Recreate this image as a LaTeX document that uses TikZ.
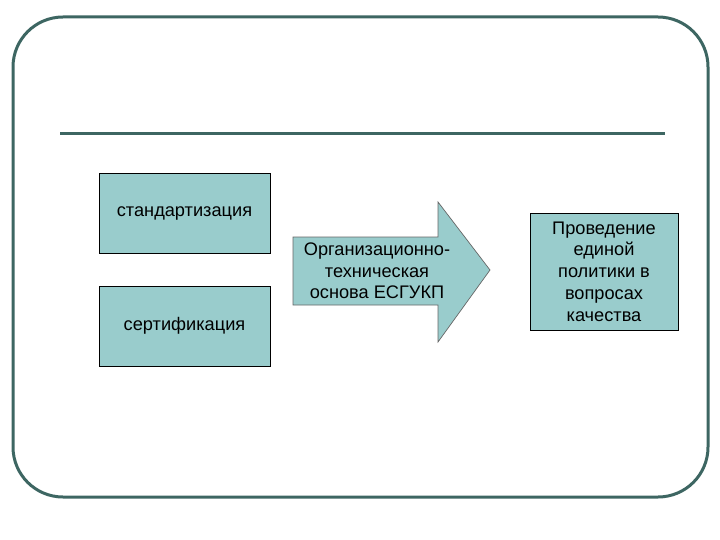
\documentclass[tikz,border=0pt]{standalone}
\usepackage{fontspec}
\setmainfont{Liberation Sans}
\usetikzlibrary{positioning,calc}
\definecolor{frameteal}{HTML}{3D6662}
\definecolor{boxfill}{HTML}{99CCCC}
\tikzset{
  fig/.style={font=\fontsize{18.2}{21.7}\selectfont},
  frm/.style={draw=frameteal,line width=3pt},
  box/.style={draw=black,line width=0.9pt,fill=boxfill,align=center,inner sep=0pt},
  bigarrow/.style={draw=black!60,line width=0.7pt,fill=boxfill},
  lbl/.style={align=center,inner sep=0pt},
}

\begin{document}
\begin{tikzpicture}[fig,x=1pt,y=-1pt]
\useasboundingbox (0,0) rectangle (720,540);

% outer frame and rule
\draw[frm,rounded corners=50pt] (13,17) rectangle (708,497);
\coordinate (rulel) at (60,134);
\coordinate (ruler) at (665,134);
\draw[frm] (rulel) -- (ruler);

% inputs
\node[box,minimum width=171pt,minimum height=80pt] (std) at (184.5,213) {стандартизация};
\node[box,minimum width=171pt,minimum height=80pt] (cert) at (184.5,326) {сертификация};

% arrow
\draw[bigarrow] (293,237) -- (438,237) -- (438,202) -- (490,270)
  -- (438,342) -- (438,305) -- (293,305) -- cycle;
\node[lbl] (base) at (377,271) {Организационно-\\техническая\\основа ЕСГУКП};

% result
\node[box,minimum width=148pt,minimum height=117pt] (pol) at (604,271.5)
  {Проведение\\единой\\политики в\\вопросах\\качества};

\end{tikzpicture}
\end{document}
